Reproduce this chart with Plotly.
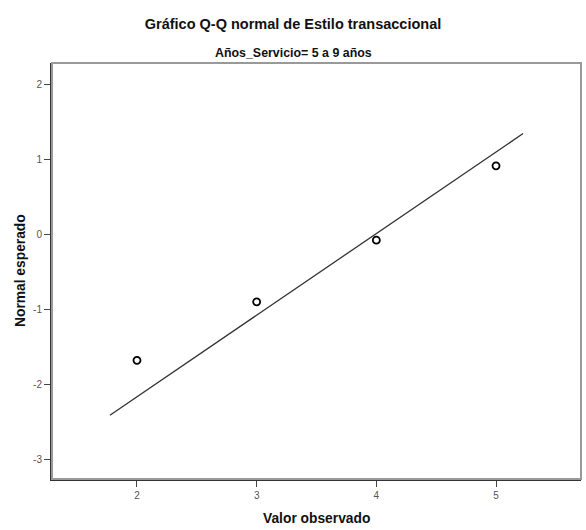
import plotly.graph_objects as go

observed = [2, 3, 4, 5]
expected = [-1.68, -0.90, -0.08, 0.91]
line_x = [1.774, 5.226]
line_y = [-2.41, 1.34]
x_ticks = [2, 3, 4, 5]
y_ticks = [-3, -2, -1, 0, 1, 2]
y_tick_labels = ["-3", "-2", "-1", "0", "1", "2"]

font_family = "Liberation Sans Narrow, Arial Narrow, Liberation Sans, Arial, sans-serif"

W, H = 586, 530
L, R, T, B = 52, 5, 63, 51
PW, PH = W - L - R, H - T - B

fig = go.Figure()
fig.add_trace(go.Scatter(x=line_x, y=line_y, mode="lines",
                         line=dict(color="#333333", width=1.3), hoverinfo="skip"))
fig.add_trace(go.Scatter(x=observed, y=expected, mode="markers",
                         marker=dict(symbol="circle-open", size=7, color="black",
                                     line=dict(width=1.8, color="black"))))

fig.update_layout(
    width=W, height=H,
    margin=dict(l=L, r=R, t=T, b=B, autoexpand=False),
    paper_bgcolor="white", plot_bgcolor="white",
    showlegend=False,
    font=dict(family=font_family, color="#222222"),
    title=dict(text="<b>Gráfico Q-Q normal de Estilo transaccional</b>",
               x=0.5, xanchor="center", y=1 - 24/H, yanchor="middle",
               font=dict(size=14.5, family=font_family, color="#111111")),
    annotations=[
        dict(text="<b>Años_Servicio= 5 a 9 años</b>", xref="paper", yref="paper",
             x=(293 - L)/PW, y=1 + 10/PH, xanchor="center", yanchor="middle",
             showarrow=False, font=dict(size=12.4, family=font_family, color="#111111")),
        dict(text="<b>Valor observado</b>", xref="paper", yref="paper",
             x=0.5, y=-(518 - (T + PH))/PH, xanchor="center", yanchor="middle",
             showarrow=False, font=dict(size=13.8, family=font_family, color="#111111")),
        dict(text="<b>Normal esperado</b>", xref="paper", yref="paper",
             x=-(L - 20)/PW, y=0.5, xanchor="center", yanchor="middle",
             textangle=-90,
             showarrow=False, font=dict(size=13.8, family=font_family, color="#111111")),
    ],
    shapes=[dict(type="rect", xref="paper", yref="paper", x0=0, y0=0, x1=1, y1=1,
                 line=dict(color="#999999", width=2), layer="above")],
)
fig.update_xaxes(range=[1.29, 5.71], tickvals=x_ticks, ticks="outside", ticklen=6,
                 tickcolor="#444444", tickwidth=1.3, automargin=False,
                 showgrid=False, zeroline=False, showline=True, linecolor="#333333", linewidth=2,
                 tickfont=dict(size=10, color="#555555"))
fig.update_yaxes(range=[-3.26, 2.28], tickvals=y_ticks, ticktext=y_tick_labels,
                 ticks="outside", ticklen=6,
                 tickcolor="#444444", tickwidth=1.3, automargin=False,
                 showgrid=False, zeroline=False, showline=True, linecolor="#333333", linewidth=2,
                 tickfont=dict(size=10, color="#555555"))

fig.write_html("out.html", config={"displayModeBar": False},
               post_script="document.body.style.margin='0';document.body.style.overflow='hidden';")
